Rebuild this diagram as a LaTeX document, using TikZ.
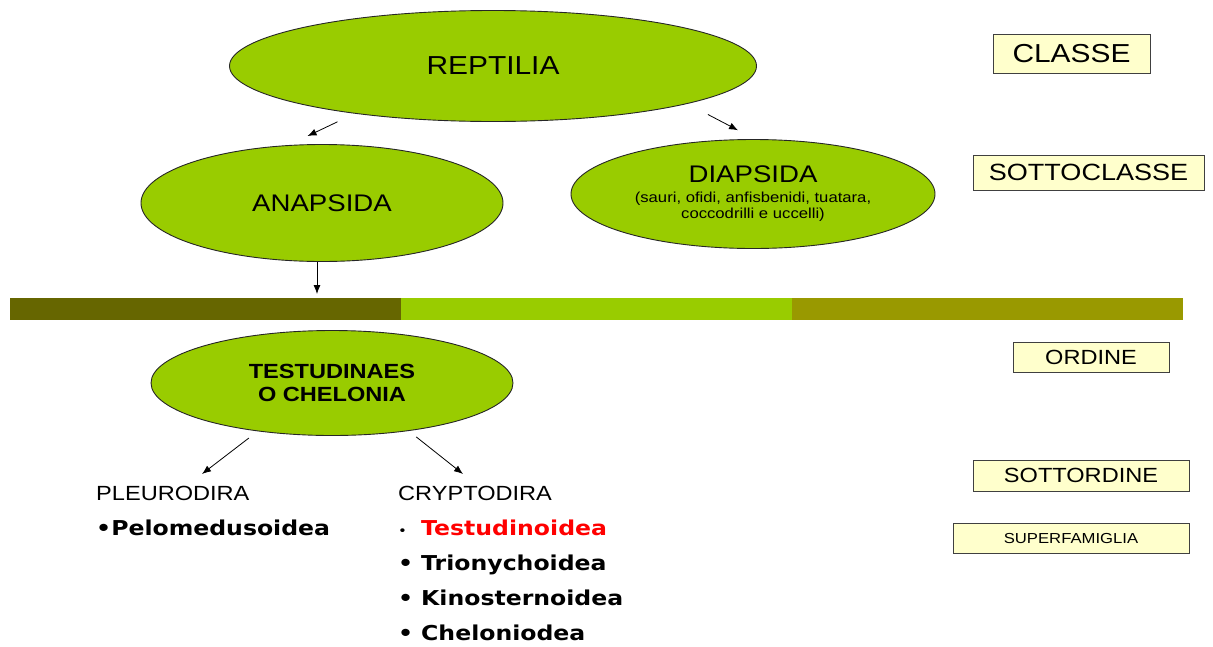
\documentclass[tikz,border=0pt]{standalone}
\usepackage{fontspec}
\setmainfont{Liberation Sans}[FakeStretch=1.15]
\newfontfamily\widesans{DejaVu Sans}[FakeStretch=1.15]
\usetikzlibrary{shapes, positioning, arrows.meta}
\definecolor{leafgreen}{HTML}{99CC00}
\definecolor{darkolive}{HTML}{666600}
\definecolor{barolive}{HTML}{999900}
\definecolor{paleyellow}{HTML}{FFFFCC}

\begin{document}
\begin{tikzpicture}[x=1pt, y=-1pt,
	taxon/.style={ellipse, draw=black!85, line width=0.9pt, fill=leafgreen, inner sep=0pt},
	rankbox/.style={rectangle, draw=black!75, line width=0.9pt, fill=paleyellow, inner sep=0pt},
	bandpart/.style={rectangle, minimum width=391pt, minimum height=22pt, inner sep=0pt, outer sep=0pt},
	link/.style={-{Latex[length=9pt,width=7pt]}, line width=0.8pt},
	groupname/.style={anchor=base west, inner sep=0pt, font=\fontsize{20.5}{24}\selectfont},
	itemname/.style={anchor=base west, inner sep=0pt, font=\widesans\bfseries\fontsize{20.5}{24}\selectfont}]
			\useasboundingbox (0,0) rectangle (1213,646);
			
			\node (rep) [taxon, minimum width=527pt, minimum height=111pt, font=\fontsize{26}{30}\selectfont] at (493,66) {REPTILIA};
			\node (ana) [taxon, minimum width=362pt, minimum height=117pt, font=\fontsize{24}{28}\selectfont] at (322,203) {ANAPSIDA};
			\node (dia) [taxon, minimum width=364pt, minimum height=109pt, align=center, font=\fontsize{14.5}{16}\selectfont] at (753,194) {{\fontsize{24}{28}\selectfont DIAPSIDA}\\[4pt](sauri, ofidi, anfisbenidi, tuatara,\\coccodrilli e uccelli)};
			
			\node (bar1) [bandpart, fill=darkolive] at (205.5,309) {};
			\node (bar2) [bandpart, fill=leafgreen, right=0pt of bar1] {};
			\node (bar3) [bandpart, fill=barolive, right=0pt of bar2] {};
			
			\node (test) [taxon, minimum width=362pt, minimum height=105pt, align=center, font=\bfseries\fontsize{20.5}{23}\selectfont] at (332,383) {TESTUDINAES\\O CHELONIA};
			
			\node (pleu) [groupname] at (96,500) {PLEURODIRA};
			\node (cryp) [groupname] at (398,500) {CRYPTODIRA};
			\node (pelo) [itemname] at (96,535.5) {•Pelomedusoidea};
			\node (testu) [itemname] at (398,535) {\makebox[23pt][l]{\mdseries\fontsize{13}{15}\selectfont •}\textcolor{red}{Testudinoidea}};
			\node (trio) [itemname] at (398,570.3) {\makebox[23pt][l]{•}Trionychoidea};
			\node (kino) [itemname] at (398,605.6) {\makebox[23pt][l]{•}Kinosternoidea};
			\node (chel) [itemname] at (398,640.9) {\makebox[23pt][l]{•}Cheloniodea};
			
			\node (classe) [rankbox, minimum width=157pt, minimum height=39pt, font=\fontsize{26}{30}\selectfont] at (1071.5,53.5) {CLASSE};
			\node (sclasse) [rankbox, minimum width=231pt, minimum height=35pt, font=\fontsize{23.5}{28}\selectfont] at (1088.5,172.5) {SOTTOCLASSE};
			\node (ordine) [rankbox, minimum width=156pt, minimum height=30pt, font=\fontsize{20.5}{24}\selectfont] at (1091,357) {ORDINE};
			\node (sordine) [rankbox, minimum width=216pt, minimum height=31pt, font=\fontsize{20.5}{24}\selectfont] at (1081,475.5) {SOTTORDINE};
			\node (sfam) [rankbox, minimum width=236pt, minimum height=30pt, font=\fontsize{14.5}{17}\selectfont] at (1071,538) {SUPERFAMIGLIA};
			
			\coordinate (pleutip) at (202,474);
			\coordinate (cryptip) at (463,474);
			
			\draw[link, shorten <=19pt, shorten >=21pt] (rep.199) -- (ana.120);
			\draw[link, shorten <=23pt, shorten >=19pt] (rep.349) -- (dia.88);
			\draw[link, shorten >=4pt] ([xshift=-5pt]ana.south) -- ([xshift=-5pt]ana.south |- bar1.north);
			\draw[link, shorten <=11pt] (test.213) -- (pleutip);
			\draw[link, shorten <=9.5pt] (test.328) -- (cryptip);
			
		\end{tikzpicture}
\end{document}
